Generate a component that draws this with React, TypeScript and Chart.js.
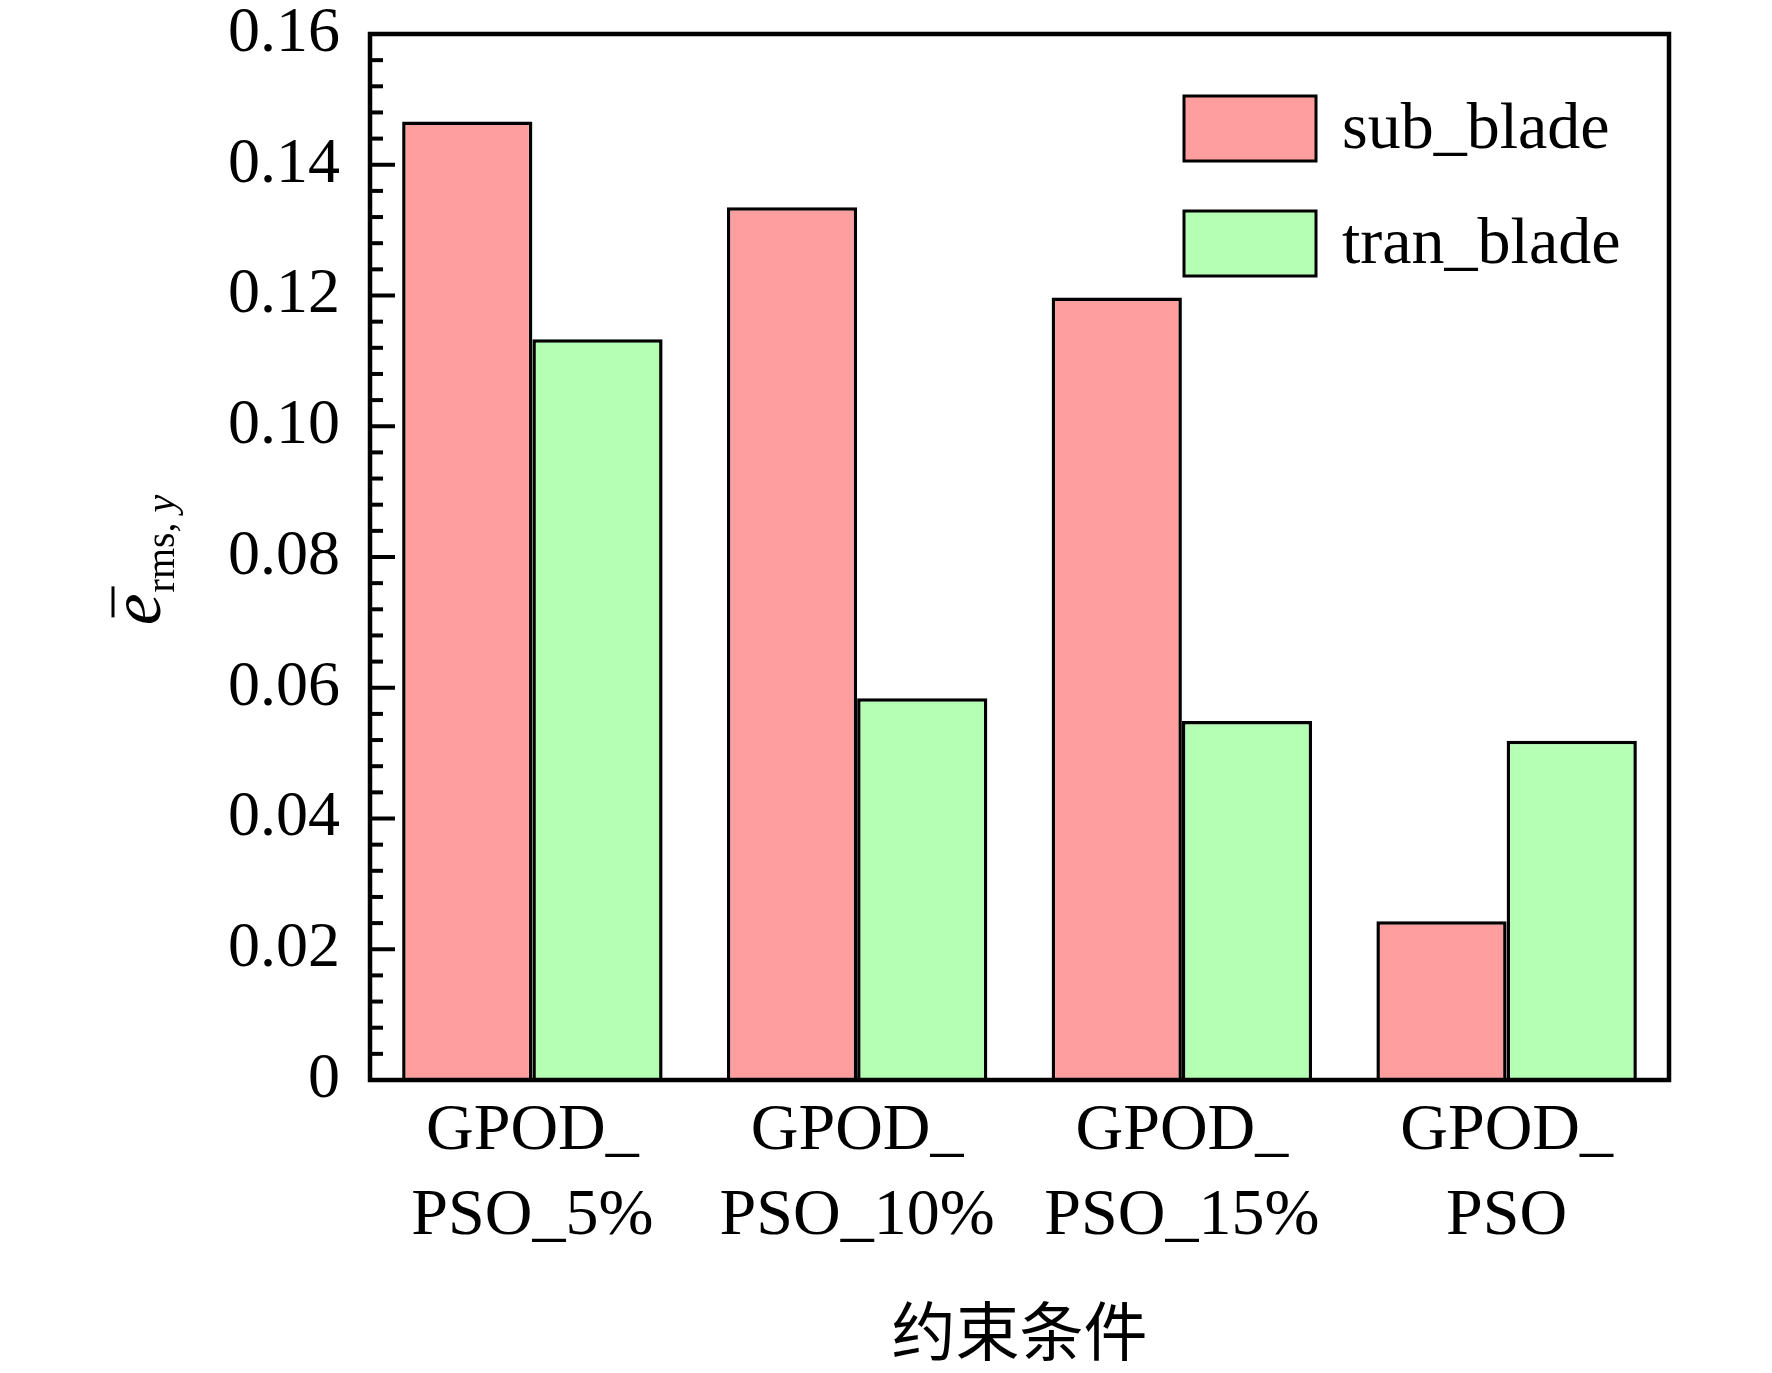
import React, { useEffect, useRef } from "react";
import { Chart, registerables } from "chart.js";

Chart.register(...registerables);

const categories: string[][] = [
  ["GPOD_", "PSO_5%"],
  ["GPOD_", "PSO_10%"],
  ["GPOD_", "PSO_15%"],
  ["GPOD_", "PSO"],
];
const subBlade: number[] = [0.1466, 0.1335, 0.1197, 0.0243];
const tranBlade: number[] = [0.1133, 0.0584, 0.0549, 0.0519];
const seriesLabels: string[] = ["sub_blade", "tran_blade"];
const yMin = 0;
const yMax = 0.16;
const yStep = 0.02;
const yMinorStep = 0.004;
const xTitle = "约束条件";

const SERIF = '"Liberation Serif", "Times New Roman", serif';

const framePlugin = {
  id: "frameAndExtras",
  afterDraw(chart: any) {
    const { ctx, chartArea } = chart;
    const { left, top, right, bottom } = chartArea;
    const yScale = chart.scales.y;
    ctx.save();
    ctx.strokeStyle = "#000";
    ctx.lineCap = "butt";
    // minor & major ticks (inward)
    ctx.lineWidth = 4;
    const nMinor = Math.round((yMax - yMin) / yMinorStep);
    for (let i = 1; i < nMinor; i++) {
      const v = yMin + i * yMinorStep;
      const isMajor = i % Math.round(yStep / yMinorStep) === 0;
      const py = yScale.getPixelForValue(v);
      ctx.beginPath();
      ctx.moveTo(left, py);
      ctx.lineTo(left + (isMajor ? 25 : 13), py);
      ctx.stroke();
    }
    // frame
    ctx.lineWidth = 4.5;
    ctx.strokeRect(left, top, right - left, bottom - top);

    // legend
    const datasets = chart.data.datasets;
    const boxX = 1184;
    const boxW = 132;
    const boxH = 65;
    const boxTops = [96, 211];
    datasets.forEach((ds: any, i: number) => {
      const by = boxTops[i];
      ctx.fillStyle = ds.backgroundColor;
      ctx.fillRect(boxX, by, boxW, boxH);
      ctx.lineWidth = 3;
      ctx.strokeStyle = "#000";
      ctx.strokeRect(boxX, by, boxW, boxH);
      ctx.fillStyle = "#000";
      ctx.font = `66px ${SERIF}`;
      ctx.textAlign = "left";
      ctx.textBaseline = "alphabetic";
      ctx.fillText(ds.label, 1342, by + 52);
    });

    // x title
    ctx.fillStyle = "#000";
    ctx.font = '64px "Noto Sans CJK SC", sans-serif';
    ctx.textAlign = "center";
    ctx.textBaseline = "middle";
    ctx.fillText(xTitle, (left + right) / 2, 1331);

    // y title: e-bar_{rms, y}
    ctx.font = `italic 72px ${SERIF}`;
    const ew = ctx.measureText("e").width;
    ctx.font = `40px ${SERIF}`;
    const sw1 = ctx.measureText("rms, ").width;
    ctx.font = `italic 40px ${SERIF}`;
    const sw2 = ctx.measureText("y").width;
    const total = ew + 1 + sw1 + sw2;
    const midY = (top + bottom) / 2 + 3;
    const startY = midY + total / 2;
    ctx.translate(160, startY);
    ctx.rotate(-Math.PI / 2);
    ctx.textAlign = "left";
    ctx.textBaseline = "alphabetic";
    ctx.font = `italic 72px ${SERIF}`;
    ctx.fillText("e", 0, 0);
    ctx.lineWidth = 3;
    ctx.beginPath();
    ctx.moveTo(8, -47);
    ctx.lineTo(39, -47);
    ctx.stroke();
    ctx.font = `40px ${SERIF}`;
    ctx.fillText("rms, ", ew + 1, 14);
    ctx.font = `italic 40px ${SERIF}`;
    ctx.fillText("y", ew + 1 + sw1, 14);
    ctx.restore();
  },
};

export default function App() {
  const canvasRef = useRef<HTMLCanvasElement | null>(null);

  useEffect(() => {
    document.body.style.margin = "0";
    const canvas = canvasRef.current;
    if (!canvas) return;
    const chart = new Chart(canvas, {
      type: "bar",
      data: {
        labels: categories,
        datasets: [
          {
            label: seriesLabels[0],
            data: subBlade,
            backgroundColor: "rgb(255,158,158)",
            borderColor: "#000",
            borderWidth: 3.5,
            borderSkipped: "bottom",
            categoryPercentage: 0.802,
            barPercentage: 1.0,
          },
          {
            label: seriesLabels[1],
            data: tranBlade,
            backgroundColor: "rgb(180,255,180)",
            borderColor: "#000",
            borderWidth: 3.5,
            borderSkipped: "bottom",
            categoryPercentage: 0.802,
            barPercentage: 1.0,
          },
        ],
      },
      options: {
        animation: false,
        responsive: true,
        maintainAspectRatio: false,
        devicePixelRatio: 1,
        layout: { padding: { left: 0, top: 34, right: 103, bottom: 0 } },
        plugins: {
          legend: { display: false },
          tooltip: { enabled: false },
          title: { display: false },
        },
        scales: {
          x: {
            grid: { display: false, drawTicks: false },
            border: { display: false },
            ticks: {
              color: "#000",
              font: { family: SERIF, size: 66, lineHeight: 1.29 },
              padding: 9,
              maxRotation: 0,
              minRotation: 0,
              autoSkip: false,
            },
            afterFit(scale: any) {
              scale.height = 293;
              scale.paddingLeft = 0;
              scale.paddingRight = 0;
            },
          },
          y: {
            min: yMin,
            max: yMax,
            grid: { display: false, drawTicks: false },
            border: { display: false },
            ticks: {
              stepSize: yStep,
              color: "#000",
              font: { family: SERIF, size: 64 },
              padding: 30,
              callback: (v: any) => (Number(v) === 0 ? "0" : Number(v).toFixed(2)),
            },
            afterFit(scale: any) {
              scale.width = 370;
              scale.paddingTop = 0;
              scale.paddingBottom = 0;
            },
          },
        },
      },
      plugins: [framePlugin],
    });
    return () => chart.destroy();
  }, []);

  return (
    <div style={{ position: "fixed", left: 0, top: 0, width: 1772, height: 1373, background: "#fff" }}>
      <canvas ref={canvasRef} />
    </div>
  );
}
